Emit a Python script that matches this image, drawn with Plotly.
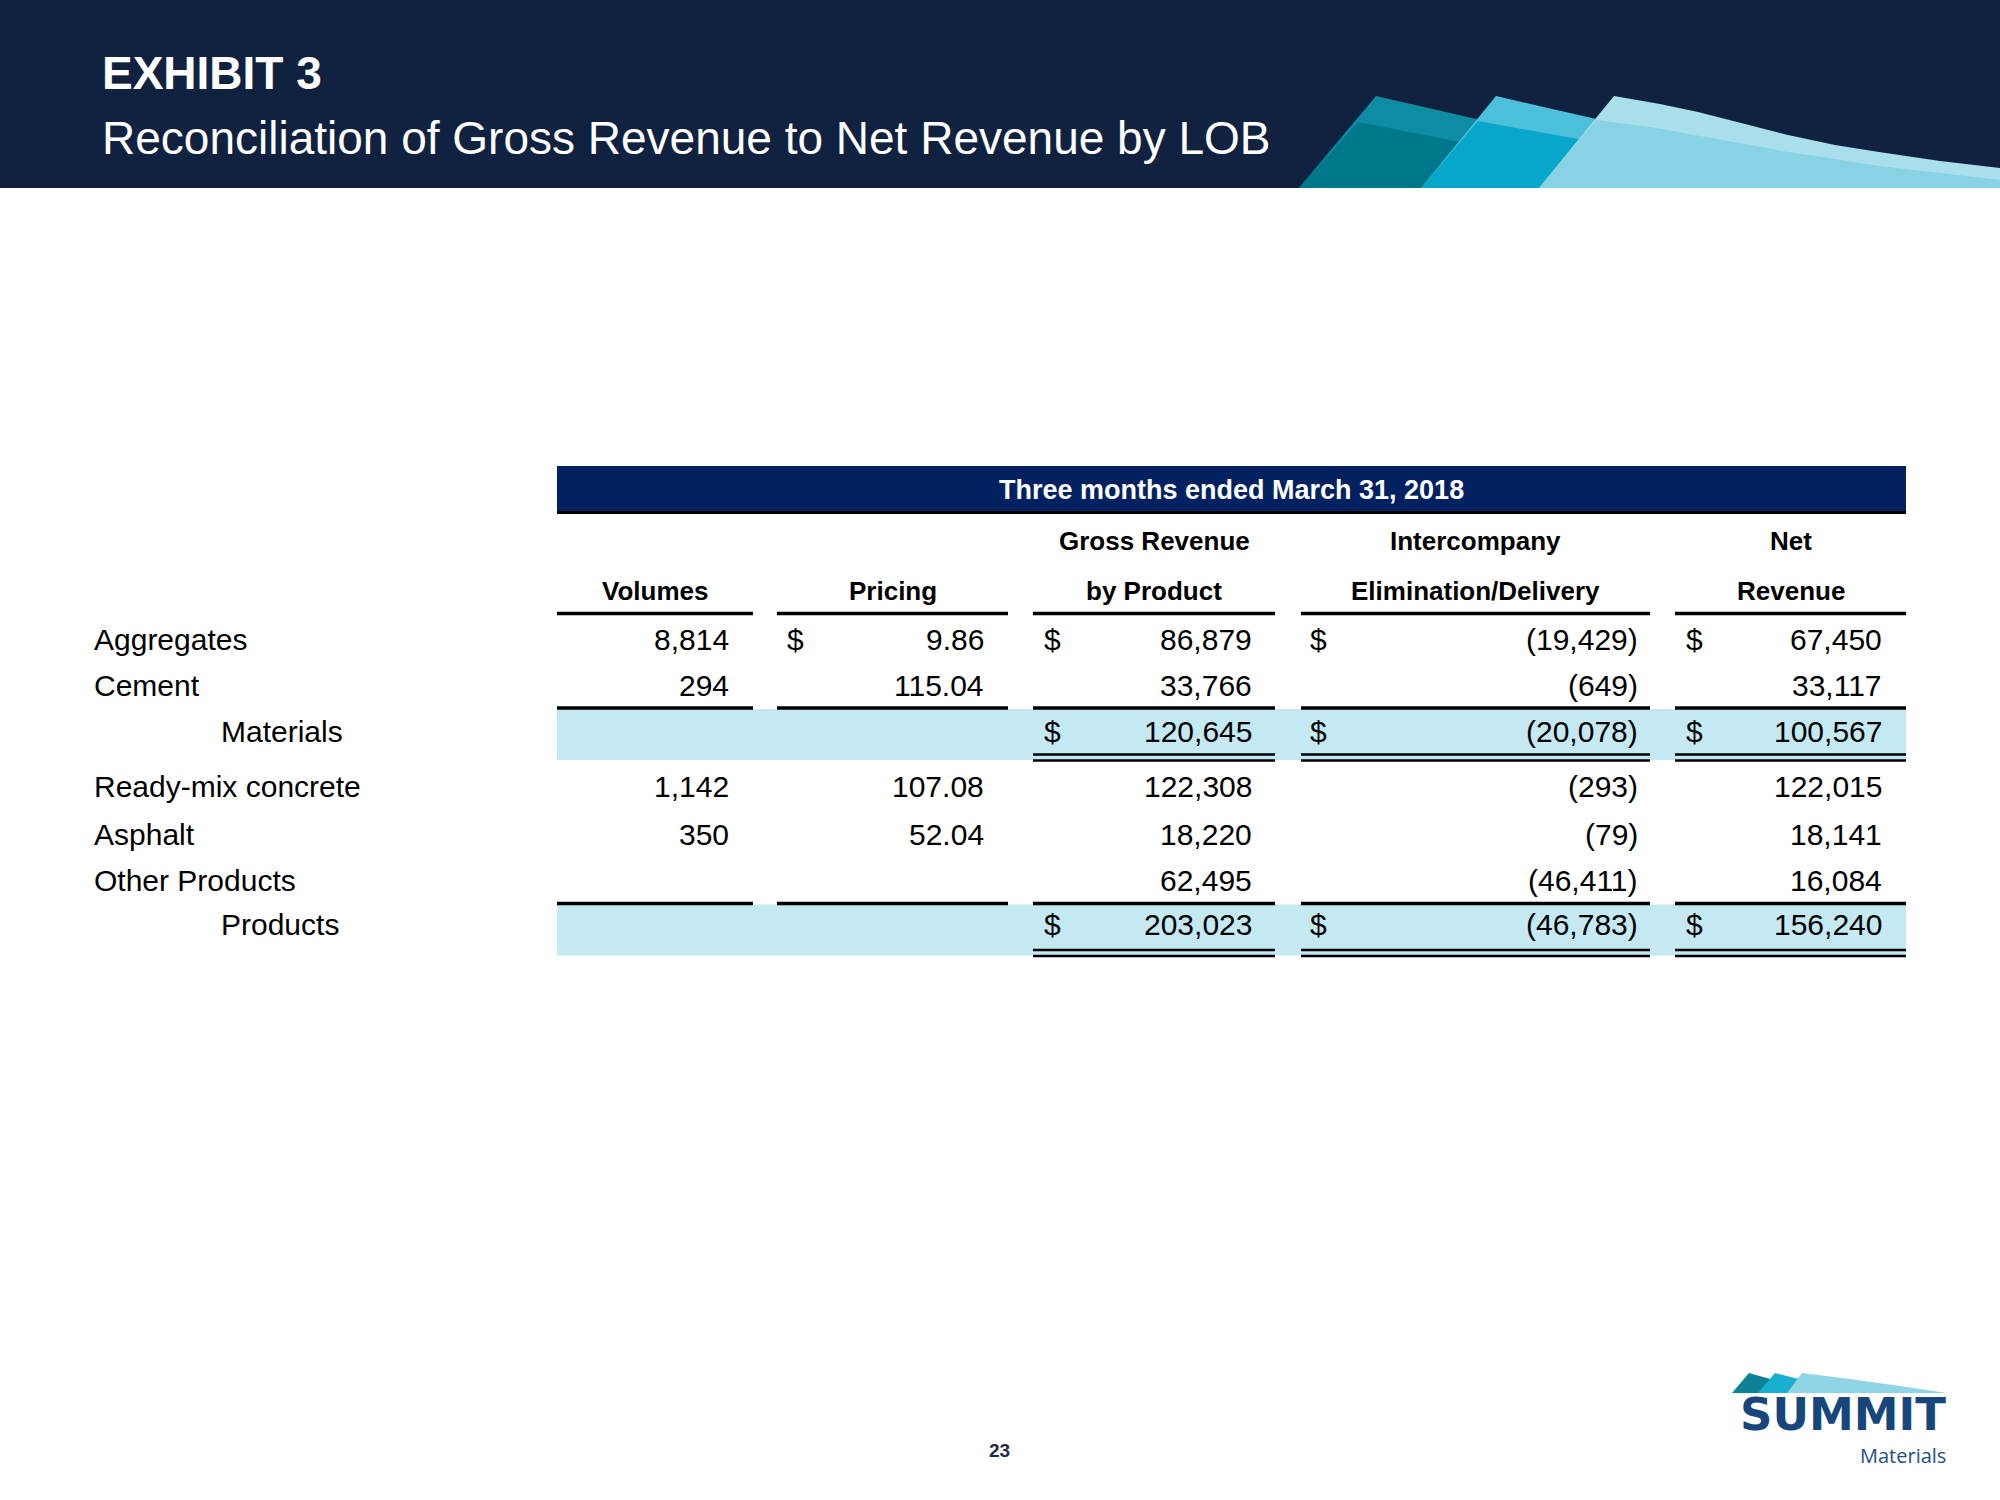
import plotly.graph_objects as go

# ---------------- data ----------------
exhibit_label = "EXHIBIT 3"
title_text = "Reconciliation of Gross Revenue to Net Revenue by LOB"
period_label = "Three months ended March 31, 2018"
page_number = "23"

categories = ["Aggregates", "Cement", "Materials", "Ready-mix concrete",
              "Asphalt", "Other Products", "Products"]
is_subtotal = [False, False, True, False, False, False, True]

volumes = [8814, 294, None, 1142, 350, None, None]
pricing = [9.86, 115.04, None, 107.08, 52.04, None, None]
gross_revenue = [86879, 33766, 120645, 122308, 18220, 62495, 203023]
intercompany = [-19429, -649, -20078, -293, -79, -46411, -46783]
net_revenue = [67450, 33117, 100567, 122015, 18141, 16084, 156240]

header_line1 = ["", "", "Gross Revenue", "Intercompany", "Net"]
header_line2 = ["Volumes", "Pricing", "by Product", "Elimination/Delivery", "Revenue"]
column_decimals = [0, 2, 0, 0, 0]
column_has_dollar = [False, True, True, True, True]

# ---------------- layout / style ----------------
ARIAL = "Liberation Sans, Arial, sans-serif"
HEADER_BG = "#10223f"
BAR_NAVY = "#022160"
HILITE = "#c4e9f2"
BODY_SIZE = 30

col_left = [557, 777, 1033, 1301, 1675]
col_right = [753, 1008, 1275, 1650, 1906]
num_right = [731, 986, 1254, 1640, 1884]
dollar_left = [None, 785, 1042, 1308, 1684]
row_y = [639.5, 685.5, 731.5, 786.5, 834, 880.5, 924.5]
sub_line_y = {2: 708, 6: 903.5}
label_x, label_indent_x = 92, 219


def fmt(v, dec):
    s = f"{abs(v):,.{dec}f}"
    return f"({s})" if v < 0 else s


columns = [volumes, pricing, gross_revenue, intercompany, net_revenue]

fig = go.Figure(go.Scatter(x=[], y=[], showlegend=False))
shapes, ann = [], []


def rect(x0, y0, x1, y1, color, layer="below"):
    shapes.append(dict(type="rect", xref="x", yref="y", x0=x0, x1=x1, y0=y0, y1=y1,
                       fillcolor=color, line=dict(width=0), layer=layer))


def hline(x0, x1, y, w, color="black"):
    shapes.append(dict(type="line", xref="x", yref="y", x0=x0, x1=x1, y0=y, y1=y,
                       line=dict(color=color, width=w), layer="above"))


def poly(points, color, closed=True):
    d = "M " + " L ".join(f"{x},{y}" for x, y in points) + (" Z" if closed else "")
    shapes.append(dict(type="path", xref="x", yref="y", path=d, fillcolor=color,
                       line=dict(width=0), layer="below"))


def text(x, y, s, size, family=ARIAL, color="black", xanchor="left", weight="normal"):
    ann.append(dict(x=x, y=y, xref="x", yref="y", text=s, showarrow=False,
                    xanchor=xanchor, yanchor="middle",
                    font=dict(family=family, size=size, color=color, weight=weight)))


# header band + swooshes
rect(0, 0, 2000, 188, HEADER_BG)
poly([(1299, 188), (1376, 96), (1520, 129), (1470, 188)], "#0d8ca3")
poly([(1299, 188), (1358, 122), (1470, 144), (1440, 188)], "#00788c")
poly([(1421, 188), (1496, 96), (1640, 129), (1590, 188)], "#4cc0da")
poly([(1421, 188), (1478, 121), (1600, 143), (1560, 188)], "#06a7cb")
poly([(1539, 188), (1614, 96), (1660, 104), (1698, 112), (1745, 124), (1788, 135),
      (1835, 145), (1879, 152), (1940, 161), (2000, 168), (2000, 188)], "#a8dfeb")
poly([(1539, 188), (1596, 120), (1650, 127), (1700, 136), (1745, 144), (1788, 152),
      (1835, 159), (1879, 166), (1940, 173), (2000, 180), (2000, 188)], "#87d2e4")
text(100, 73, exhibit_label, 46, color="white", weight="bold")
text(100, 138, title_text, 46, color="white")

# period bar
rect(557, 466, 1906, 513, BAR_NAVY)
hline(557, 1906, 512.5, 3)
text(1231, 490, period_label, 27, color="white", xanchor="center", weight="bold")

# column headers
for c in range(5):
    cx = (col_left[c] + col_right[c]) / 2
    if header_line1[c]:
        text(cx, 541, header_line1[c], 26, xanchor="center", weight="bold")
    text(cx, 591, header_line2[c], 26, xanchor="center", weight="bold")
    hline(col_left[c], col_right[c], 613.5, 3.5)

# subtotal highlights and lines
for r, top in sub_line_y.items():
    rect(557, top + 1, 1906, top + 52, HILITE)
    for c in range(5):
        hline(col_left[c], col_right[c], top, 3.5)
    for c in range(2, 5):
        hline(col_left[c], col_right[c], top + 46.5, 2.5)
        hline(col_left[c], col_right[c], top + 52.5, 2.5)

# rows
for r, cat in enumerate(categories):
    y = row_y[r]
    text(label_indent_x if is_subtotal[r] else label_x, y, cat, BODY_SIZE)
    for c, col in enumerate(columns):
        v = col[r]
        if v is None:
            continue
        text(num_right[c], y, fmt(v, column_decimals[c]), BODY_SIZE, xanchor="right")
        if column_has_dollar[c] and (r == 0 or is_subtotal[r]):
            text(dollar_left[c], y, "$", BODY_SIZE)

# footer: page number and logo
text(999, 1450, page_number, 19, color="#1f2b46", xanchor="center", weight="bold")
poly([(1732, 1393), (1749, 1373), (1792, 1385), (1785, 1393)], "#0f8197")
poly([(1758, 1393), (1775, 1373), (1822, 1385), (1815, 1393)], "#19afd0")
poly([(1787, 1393), (1802, 1373), (1850, 1379), (1900, 1386), (1947, 1393)], "#8fd5e6")
text(1948, 1414, "SUMMIT", 45, family="DejaVu Sans, Liberation Sans, sans-serif",
     color="#17467a", xanchor="right", weight="bold")
text(1948, 1455, "Materials", 20, family="Open Sans, Noto Sans, sans-serif",
     color="#22507f", xanchor="right")

fig.update_layout(
    width=2000, height=1500, margin=dict(l=0, r=0, t=0, b=0, pad=0),
    paper_bgcolor="white", plot_bgcolor="white",
    xaxis=dict(range=[0, 2000], visible=False, fixedrange=True),
    yaxis=dict(range=[1500, 0], visible=False, fixedrange=True),
    shapes=shapes, annotations=ann, showlegend=False,
)

fig.write_html("out.html", config={"displayModeBar": False},
               post_script="document.body.style.margin='0';document.body.style.overflow='hidden';")
